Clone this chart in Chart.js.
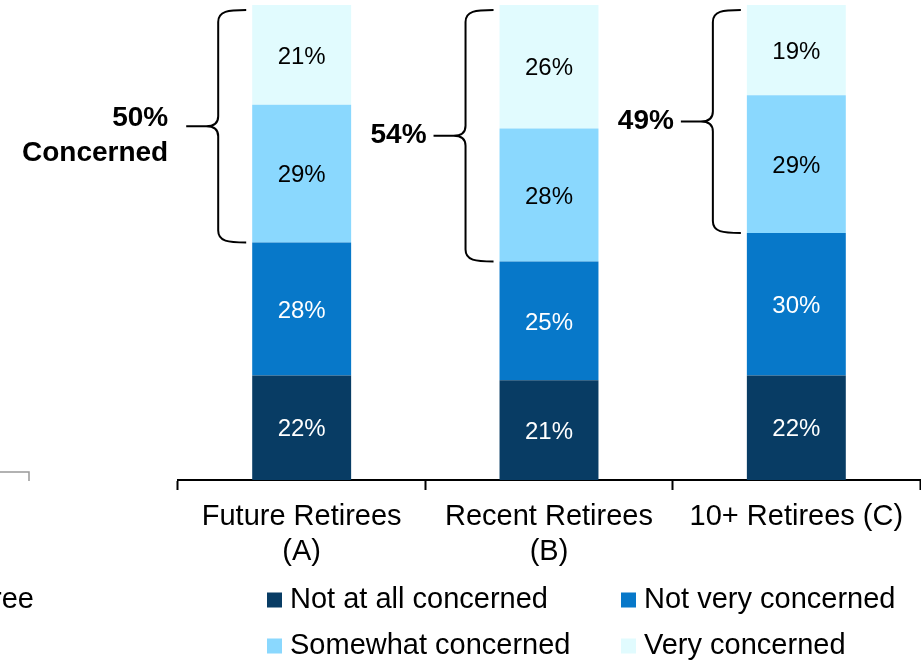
<!DOCTYPE html>
<html>
<head>
<meta charset="utf-8">
<script src="https://cdn.jsdelivr.net/npm/chart.js@4.4.0/dist/chart.umd.min.js"></script>
<style>
  html, body { margin: 0; padding: 0; background: #fff; }
  #wrap { position: relative; width: 921px; height: 660px; }
</style>
</head>
<body>
<div id="wrap"><canvas id="concernChart" width="921" height="660"></canvas></div>
<script>
const groups = [["Future Retirees", "(A)"], ["Recent Retirees", "(B)"], "10+ Retirees (C)"];

const notAtAll = [22, 21, 22];
const notVery = [28, 25, 30];
const somewhat = [29, 28, 29];
const very = [21, 26, 19];

const seriesNames = ["Not at all concerned", "Not very concerned", "Somewhat concerned", "Very concerned"];
const seriesColors = ["#083C64", "#0778C9", "#8AD8FE", "#E1FBFE"];
const labelColors = ["#fff", "#fff", "#000", "#000"];

const concernedTotals = [["50%", "Concerned"], ["54%"], ["49%"]];

const FONT = "'Liberation Sans', Arial, sans-serif";

// value labels inside each segment
const segmentLabels = {
  id: 'segmentLabels',
  afterDatasetsDraw(chart) {
    const ctx = chart.ctx;
    ctx.save();
    ctx.font = "24px " + FONT;
    ctx.textAlign = "center";
    ctx.textBaseline = "middle";
    chart.data.datasets.forEach((ds, di) => {
      const meta = chart.getDatasetMeta(di);
      meta.data.forEach((bar, i) => {
        ctx.fillStyle = labelColors[di];
        ctx.fillText(ds.data[i] + "%", bar.x, (bar.y + bar.base) / 2 + 2);
      });
    });
    ctx.restore();
  }
};

// curly braces grouping the two "concerned" segments
const concernBraces = {
  id: 'concernBraces',
  afterDatasetsDraw(chart) {
    const ctx = chart.ctx;
    const y = chart.scales.y;
    const bars = chart.getDatasetMeta(0).data;
    ctx.save();
    ctx.strokeStyle = "#000";
    ctx.lineWidth = 2;
    bars.forEach((bar, i) => {
      const bx = bar.x - bar.width / 2;
      const top = y.getPixelForValue(100) + 5;
      const bottom = y.getPixelForValue(notAtAll[i] + notVery[i]);
      const mid = (top + bottom) / 2;
      const xr = bx - 6, xv = bx - 34, xt = bx - 66;

      ctx.beginPath();
      ctx.moveTo(xr, top);
      ctx.bezierCurveTo(xv + 10, top, xv, top + 1, xv, top + 12);
      ctx.lineTo(xv, mid - 10);
      ctx.bezierCurveTo(xv, mid - 2, xv - 6, mid, xv - 12, mid);
      ctx.lineTo(xt, mid);
      ctx.moveTo(xv - 12, mid);
      ctx.bezierCurveTo(xv - 6, mid, xv, mid + 2, xv, mid + 10);
      ctx.lineTo(xv, bottom - 12);
      ctx.bezierCurveTo(xv, bottom - 1, xv + 10, bottom, xr, bottom);
      ctx.stroke();

      const lines = concernedTotals[i];
      const lh = 35;
      ctx.font = "bold 28px " + FONT;
      ctx.fillStyle = "#000";
      ctx.textAlign = "right";
      ctx.textBaseline = "middle";
      // a two-line caption sits a little lower, starting near the pointer
      const start = lines.length > 1 ? mid - 8 : mid;
      const right = lines.length > 1 ? xt - 18 : xt - 7;
      lines.forEach((t, k) => ctx.fillText(t, right, start + k * lh));
    });
    ctx.restore();
  }
};

// two-by-two legend under the axis labels, plus the edge of the neighbouring panel
const gridLegend = {
  id: 'gridLegend',
  afterDraw(chart) {
    const ctx = chart.ctx;
    const cols = [267, 621];
    const rows = [600, 646];
    ctx.save();
    ctx.font = "29px " + FONT;
    ctx.textBaseline = "middle";
    ctx.textAlign = "left";
    chart.data.datasets.forEach((ds, di) => {
      const x = cols[di % 2];
      const yy = rows[Math.floor(di / 2)];
      ctx.fillStyle = ds.backgroundColor;
      ctx.fillRect(x, yy - 7.5, 15, 15);
      ctx.fillStyle = "#000";
      ctx.fillText(ds.label, x + 23, yy);
    });

    ctx.textAlign = "right";
    ctx.fillText("ree", 34, 600);
    ctx.strokeStyle = "#999";
    ctx.lineWidth = 1.5;
    ctx.beginPath();
    ctx.moveTo(0, 472);
    ctx.lineTo(29, 472);
    ctx.lineTo(29, 481);
    ctx.stroke();
    ctx.restore();
  }
};

const seriesData = [notAtAll, notVery, somewhat, very];

new Chart(document.getElementById("concernChart"), {
  type: 'bar',
  data: {
    labels: groups,
    datasets: seriesData.map((d, i) => ({
      label: seriesNames[i],
      data: d,
      backgroundColor: seriesColors[i],
      borderWidth: 0,
      categoryPercentage: 1,
      barPercentage: 0.4
    }))
  },
  options: {
    responsive: false,
    animation: false,
    layout: { padding: { left: 178, top: 5, right: 1, bottom: 0 } },
    scales: {
      x: {
        stacked: true,
        grid: {
          offset: true,
          drawOnChartArea: false,
          drawTicks: true,
          tickLength: 10,
          tickColor: '#000',
          tickWidth: 2
        },
        border: { display: true, color: '#000', width: 2 },
        ticks: {
          color: '#000',
          font: { family: FONT, size: 29 },
          padding: 10,
          maxRotation: 0,
          autoSkip: false
        },
        afterFit(scale) { scale.height = 180; }
      },
      y: {
        stacked: true,
        display: false,
        min: 0,
        max: 100
      }
    },
    plugins: {
      legend: { display: false },
      tooltip: { enabled: false }
    }
  },
  plugins: [segmentLabels, concernBraces, gridLegend]
});
</script>
</body>
</html>
